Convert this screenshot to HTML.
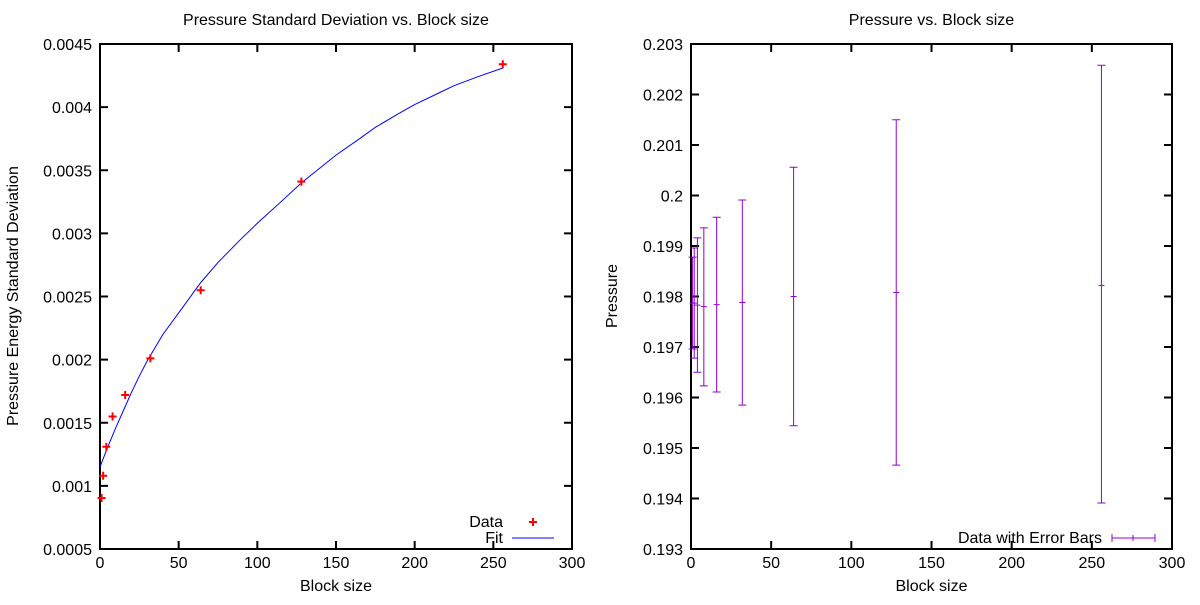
<!DOCTYPE html>
<html><head><meta charset="utf-8"><style>
body{margin:0;background:#fff;}
svg text{font-family:"Liberation Sans",Arial,sans-serif;font-size:16px;fill:#000;}
</style></head><body>
<svg id="c" width="1200" height="600"></svg>
<script>
const blockSizes=[1,2,4,8,16,32,64,128,256];
const stdValues=[0.000904,0.00108,0.00131,0.00155,0.00172,0.00201,0.00255,0.00341,0.00434];
const fitX=[0,5,10,15,20,25,30,40,50,64,75,90,100,115,128,140,150,165,175,190,200,215,225,240,256];
const fitY=[0.00115,0.00131,0.00146,0.00160,0.00174,0.00187,0.00199,0.00220,0.00237,0.00261,0.00277,0.00296,0.00308,0.00325,0.00340,0.00352,0.00362,0.00375,0.00384,0.00395,0.00402,0.00411,0.00417,0.00424,0.00431];
const pressMean=[0.19787,0.19787,0.19783,0.19780,0.19784,0.19788,0.19800,0.19808,0.19822];
const pressTop=[0.19878,0.19896,0.19916,0.19936,0.19957,0.19991,0.20056,0.20150,0.20258];
const pressBot=[0.19696,0.19678,0.19650,0.19623,0.19611,0.19585,0.19544,0.19466,0.19391];
const xTicks=[0,50,100,150,200,250,300];
const leftYTicks=[0.0005,0.001,0.0015,0.002,0.0025,0.003,0.0035,0.004,0.0045];
const leftYLabels=["0.0005","0.001","0.0015","0.002","0.0025","0.003","0.0035","0.004","0.0045"];
const rightYTicks=[0.193,0.194,0.195,0.196,0.197,0.198,0.199,0.2,0.201,0.202,0.203];
const rightYLabels=["0.193","0.194","0.195","0.196","0.197","0.198","0.199","0.2","0.201","0.202","0.203"];

const NS="http://www.w3.org/2000/svg";
const svg=document.getElementById('c');
function mk(tag,attrs,parent,txt){const e=document.createElementNS(NS,tag);for(const k in attrs)e.setAttribute(k,attrs[k]);if(txt!==undefined)e.textContent=txt;(parent||svg).appendChild(e);return e;}

function panel(o){
  const g=mk('g',{});
  
  
  const xs=v=>o.x0+(v-0)/300*(o.x1-o.x0);
  const ys=v=>o.y0-(v-o.ymin)/(o.ymax-o.ymin)*(o.y0-o.y1);
  const frame=mk('rect',{x:o.x0,y:o.y1,width:o.x1-o.x0,height:o.y0-o.y1,fill:'none',stroke:'#000','stroke-width':2},g);
  
  
  xTicks.forEach(t=>{const x=xs(t);
    mk('line',{x1:x,y1:o.y0,x2:x,y2:o.y0-8,stroke:'#000','stroke-width':2},g);
    mk('line',{x1:x,y1:o.y1,x2:x,y2:o.y1+8,stroke:'#000','stroke-width':2},g);
    const tl=mk('text',{x:x,y:o.y0+19,'text-anchor':'middle'},g,String(t));
    
    
  });
  o.yt.forEach((t,i)=>{const y=ys(t);
    mk('line',{x1:o.x0,y1:y,x2:o.x0+8,y2:y,stroke:'#000','stroke-width':2},g);
    mk('line',{x1:o.x1,y1:y,x2:o.x1-8,y2:y,stroke:'#000','stroke-width':2},g);
    const tl=mk('text',{x:o.x0-8,y:y+6,'text-anchor':'end'},g,o.yl[i]);
    
    
  });
  const tt=mk('text',{x:(o.x0+o.x1)/2,y:25,'text-anchor':'middle'},g,o.title);
  
  
  const xt=mk('text',{x:(o.x0+o.x1)/2,y:591,'text-anchor':'middle'},g,'Block size');
  
  
  const yt=mk('text',{x:o.ytx,y:296,'text-anchor':'middle',transform:`rotate(-90 ${o.ytx} 296)`},g,o.ytitle);
  
  
  return {g,xs,ys};
}

// Left panel
const L=panel({name:'std-dev-panel',x0:100,x1:572,y0:549,y1:44,ymin:0.0005,ymax:0.0045,yt:leftYTicks,yl:leftYLabels,title:'Pressure Standard Deviation vs. Block size',ytitle:'Pressure Energy Standard Deviation',ytx:18});
const fit=mk('polyline',{points:fitX.map((x,i)=>L.xs(x)+','+L.ys(fitY[i])).join(' '),fill:'none',stroke:'#0000ff','stroke-width':1},L.g);


blockSizes.forEach((b,i)=>{const x=L.xs(b),y=L.ys(stdValues[i]);
  const p=mk('path',{d:`M${x-4},${y}H${x+4}M${x},${y-4}V${y+4}`,stroke:'#ff0000','stroke-width':2},L.g);
  
  
});
const lg1=mk('g',{},L.g);


mk('text',{x:503,y:527,'text-anchor':'end'},lg1,'Data');
mk('path',{d:'M529,522H537M533,518V526',stroke:'#ff0000','stroke-width':2},lg1);
mk('text',{x:503,y:543,'text-anchor':'end'},lg1,'Fit');
mk('line',{x1:512,y1:538,x2:554,y2:538,stroke:'#0000ff','stroke-width':1},lg1);

// Right panel
const R=panel({name:'pressure-panel',x0:691,x1:1172,y0:549,y1:44,ymin:0.193,ymax:0.203,yt:rightYTicks,yl:rightYLabels,title:'Pressure vs. Block size',ytitle:'Pressure',ytx:617});
blockSizes.forEach((b,i)=>{const x=R.xs(b),yt=R.ys(pressTop[i]),yb=R.ys(pressBot[i]),ym=R.ys(pressMean[i]);
  const p=mk('path',{d:`M${x},${yt}V${yb}M${x-4},${yt}H${x+4}M${x-4},${yb}H${x+4}M${x-3},${ym}H${x+3}`,stroke:'#9400d3','stroke-width':1,fill:'none'},R.g);
  
  
});
const lg2=mk('g',{},R.g);


mk('text',{x:1102,y:543,'text-anchor':'end'},lg2,'Data with Error Bars');
mk('path',{d:'M1112,538H1155M1112,534V542M1155,534V542M1133,535V541',stroke:'#9400d3','stroke-width':1,fill:'none'},lg2);
</script>
</body></html>
